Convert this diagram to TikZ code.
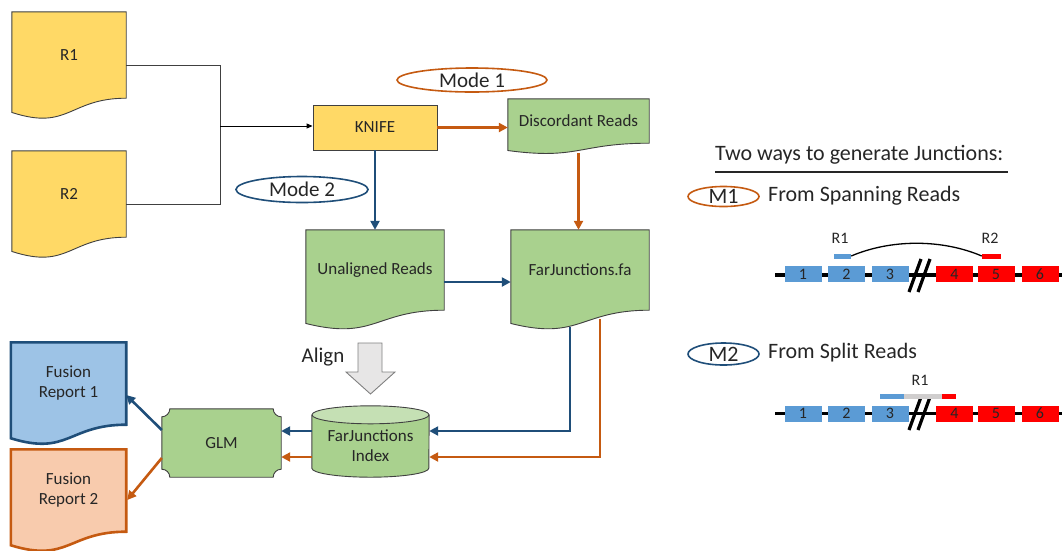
\documentclass[tikz,border=0pt]{standalone}
\usepackage{fontspec}
\setmainfont{Carlito}
\usetikzlibrary{calc,arrows.meta,shapes.geometric,backgrounds}

\definecolor{docyellow}{HTML}{FFD966}
\definecolor{docgreen}{HTML}{A9D18E}
\definecolor{lightgreen}{HTML}{C5E0B4}
\definecolor{repblue}{HTML}{9DC3E6}
\definecolor{reporange}{HTML}{F8CBAD}
\definecolor{darkblue}{HTML}{1F4E79}
\definecolor{darkorange}{HTML}{C55A11}
\definecolor{outline}{HTML}{404040}
\definecolor{txt}{HTML}{262626}
\definecolor{exonblue}{HTML}{5B9BD5}
\definecolor{exonred}{HTML}{FF0000}
\definecolor{readgray}{HTML}{D0CECE}
\definecolor{aligngray}{HTML}{E7E6E6}

% document outline with a wavy lower edge, built on a node's box
\newcommand\docshape[2]{%
  \path[#2] (#1.north west) -- (#1.north east) -- (#1.south east)
    .. controls (#1.south) and ($(#1.north)!1.381!(#1.south)$)
    .. ($(#1.north west)!1.1646!(#1.south west)$) -- cycle;}

\tikzset{
  box/.style={inner sep=0pt, align=center, text=txt, font=\fontsize{17}{20}\selectfont},
  bluearrow/.style={draw=darkblue, line width=2.6pt, -{Triangle[length=9pt,width=9pt]}},
  orangearrow/.style={draw=darkorange, line width=2.6pt, -{Triangle[length=9pt,width=9pt]}},
  thinline/.style={draw=outline, line width=0.9pt},
  modeellipse/.style={ellipse, draw, line width=1.6pt, inner sep=0pt, text=txt,
    font=\fontsize{21}{24}\selectfont},
  exon/.style={rectangle, inner sep=0pt, minimum width=37pt, minimum height=16pt,
    text=txt, font=\fontsize{16}{18}\selectfont},
  readbar/.style={rectangle, inner sep=0pt, minimum height=5pt},
  small/.style={text=txt, inner sep=0pt, font=\fontsize{16}{18}\selectfont},
  panel/.style={text=txt, inner sep=0pt, font=\fontsize{22}{26}\selectfont},
  geneline/.style={line width=3.5pt, black},
  breakmark/.style={line width=3.2pt, black},
}

\begin{document}
\begin{tikzpicture}[x=1pt,y=-1pt]
\useasboundingbox (0,0) rectangle (1062,550);

% ---------- flow chart nodes ----------
\node[box, minimum width=114pt, minimum height=86pt] (r1) at (69,55) {R1};
\node[box, minimum width=114pt, minimum height=86pt] (r2) at (69,194) {R2};
\node[box, draw=outline, fill=docyellow, line width=0.9pt,
      minimum width=124pt, minimum height=45pt] (knife) at (375,127.5) {KNIFE};
\node[box, minimum width=141pt, minimum height=44pt] (disc) at (578.5,121) {Discordant Reads};
\node[box, minimum width=138pt, minimum height=80pt] (unal) at (375,270) {Unaligned Reads};
\node[box, minimum width=138pt, minimum height=80pt] (farj) at (580,270) {FarJunctions.fa};
\node[box, minimum width=117pt, minimum height=62pt] (cyl) at (370.5,446) {FarJunctions\\Index};
\node[box, minimum width=119pt, minimum height=68pt] (glm) at (221.5,443) {GLM};
\node[box, minimum width=115pt, minimum height=82pt] (rep1) at (68.5,383.5) {Fusion\\Report 1};
\node[box, minimum width=115pt, minimum height=82pt] (rep2) at (68.5,490.5) {Fusion\\Report 2};

\node[modeellipse, draw=darkorange, minimum width=150pt, minimum height=24pt] (mode1) at (472,80) {Mode 1};
\node[modeellipse, draw=darkblue, minimum width=132pt, minimum height=26pt] (mode2) at (302,189.5) {Mode 2};
\node[text=txt, inner sep=0pt, font=\fontsize{21}{24}\selectfont] (align) at (323,357) {Align};

\begin{scope}[on background layer]
  \docshape{r1}{draw=outline, fill=docyellow, line width=0.9pt}
  \docshape{r2}{draw=outline, fill=docyellow, line width=0.9pt}
  \docshape{disc}{draw=outline, fill=docgreen, line width=0.9pt}
  \docshape{unal}{draw=outline, fill=docgreen, line width=0.9pt}
  \docshape{farj}{draw=outline, fill=docgreen, line width=0.9pt}
  \docshape{rep1}{draw=darkblue, fill=repblue, line width=2.6pt}
  \docshape{rep2}{draw=darkorange, fill=reporange, line width=2.6pt}
  % database cylinder
  \fill[docgreen] (cyl.north west) rectangle ([yshift=9pt]cyl.south east);
  \fill[docgreen] ([yshift=9pt]cyl.south) ellipse [x radius=58.5pt, y radius=9pt];
  \draw[outline, line width=0.9pt] (cyl.north west) -- ([yshift=9pt]cyl.south west)
     arc[start angle=180, end angle=360, x radius=58.5pt, y radius=9pt] -- (cyl.north east);
  \filldraw[draw=outline, fill=lightgreen, line width=0.9pt] (cyl.north) ellipse [x radius=58.5pt, y radius=9pt];
  % plaque with concave corners
  \filldraw[draw=outline, fill=docgreen, line width=0.9pt]
    ([xshift=-8pt]glm.north east)
      .. controls ([xshift=-8pt,yshift=-4.4pt]glm.north east) and ([xshift=-4.4pt,yshift=-8pt]glm.north east)
      .. ([yshift=-8pt]glm.north east)
    -- ([yshift=8pt]glm.south east)
      .. controls ([xshift=-4.4pt,yshift=8pt]glm.south east) and ([xshift=-8pt,yshift=4.4pt]glm.south east)
      .. ([xshift=-8pt]glm.south east)
    -- ([xshift=8pt]glm.south west)
      .. controls ([xshift=8pt,yshift=4.4pt]glm.south west) and ([xshift=4.4pt,yshift=8pt]glm.south west)
      .. ([yshift=8pt]glm.south west)
    -- ([yshift=-8pt]glm.north west)
      .. controls ([xshift=4.4pt,yshift=-8pt]glm.north west) and ([xshift=8pt,yshift=-4.4pt]glm.north west)
      .. ([xshift=8pt]glm.north west)
    -- cycle;
\end{scope}

% block arrow for the alignment step
\filldraw[draw=gray, fill=aligngray, line width=0.9pt]
  (358,343) -- (382,343) -- (382,372) -- (395,372) -- (370.5,394) -- (346,372) -- (358,372) -- cycle;

% ---------- connectors ----------
\coordinate (jtop) at (220,65);
\coordinate (jbot) at (220,204);
\coordinate (jmid) at (220,126);
\draw[thinline] (r1.east |- jtop) -- (jtop) -- (jbot) -- (r2.east |- jbot);
\draw[thinline, -{Triangle[length=6pt,width=5pt]}, black] (jmid) -- (knife.west |- jmid);

\draw[orangearrow] (knife.east) -- (disc.west |- knife.east);
\draw[orangearrow] ([yshift=-10pt]disc.south) -- (farj.north -| disc.south);
\draw[bluearrow] (knife.south) -- (unal.north);
\draw[bluearrow] ([yshift=-12pt]unal.east) -- ([yshift=-12pt]unal.east -| farj.west);

\draw[bluearrow] ([xshift=-10pt,yshift=-57pt]farj.center) |- ([yshift=15pt]cyl.east);
\draw[orangearrow] ([xshift=20pt,yshift=-49pt]farj.center) |- ([yshift=-11pt]cyl.east);
\draw[bluearrow] ([yshift=15pt]cyl.west) -- ([yshift=15pt]cyl.west -| glm.east);
\draw[orangearrow] ([yshift=-11pt]cyl.west) -- ([yshift=-11pt]cyl.west -| glm.east);

\draw[bluearrow] ([yshift=13pt]glm.west) -- ([yshift=-11.5pt]rep1.east);
\draw[orangearrow] ([yshift=-15pt]glm.west) -- ([xshift=1pt,yshift=-9.5pt]rep2.east);

% ---------- legend panel ----------
\node[panel, anchor=west] (title) at (715,155) {Two ways to generate Junctions:};
\draw[line width=1.2pt, txt] (715,172) -- (1008,172);

\node[modeellipse, draw=darkorange, minimum width=71pt, minimum height=20pt,
      font=\fontsize{22}{26}\selectfont] (m1) at (723.5,196.5) {M1};
\node[panel, anchor=west] (m1text) at (768,196) {From Spanning Reads};

\node[modeellipse, draw=darkblue, minimum width=71pt, minimum height=22pt,
      font=\fontsize{22}{26}\selectfont] (m2) at (723.5,354) {M2};
\node[panel, anchor=west] (m2text) at (768,353) {From Split Reads};

% spanning reads: gene model
\draw[geneline] (775,275) -- (1062,275);
\node[exon, fill=exonblue] (a1) at (803,274) {1};
\node[exon, fill=exonblue] (a2) at (846.5,274) {2};
\node[exon, fill=exonblue] (a3) at (890,274) {3};
\node[exon, fill=exonred] (a4) at (954.5,274) {4};
\node[exon, fill=exonred] (a5) at (996,274) {5};
\node[exon, fill=exonred] (a6) at (1040,274) {6};
\draw[breakmark] (909,292) -- (921,259);
\draw[breakmark] (918,292) -- (930,259);
\node[readbar, fill=exonblue, minimum width=17pt] (sr1) at (842.5,256) {};
\node[readbar, fill=exonred, minimum width=19pt] (sr2) at (991.5,256) {};
\node[small] (sr1lab) at (840,238) {R1};
\node[small] (sr2lab) at (990,238) {R2};
\draw[line width=1.3pt, black] (sr1.east) .. controls +(40,-17) and +(-40,-17) .. (sr2.west);

% split reads: gene model
\draw[geneline] (775,413.5) -- (1062,413.5);
\node[exon, fill=exonblue] (b1) at (803,413.5) {1};
\node[exon, fill=exonblue] (b2) at (846.5,413.5) {2};
\node[exon, fill=exonblue] (b3) at (890,413.5) {3};
\node[exon, fill=exonred] (b4) at (954.5,413.5) {4};
\node[exon, fill=exonred] (b5) at (996,413.5) {5};
\node[exon, fill=exonred] (b6) at (1040,413.5) {6};
\draw[breakmark] (909,430) -- (921,397);
\draw[breakmark] (918,430) -- (930,397);
\node[readbar, fill=exonblue, minimum width=24pt] (pr1) at (892,396) {};
\node[readbar, fill=readgray, minimum width=38pt] (pr2) at (923,396) {};
\node[readbar, fill=exonred, minimum width=14pt] (pr3) at (949,396) {};
\node[small] (prlab) at (920,380) {R1};
\end{tikzpicture}
\end{document}
